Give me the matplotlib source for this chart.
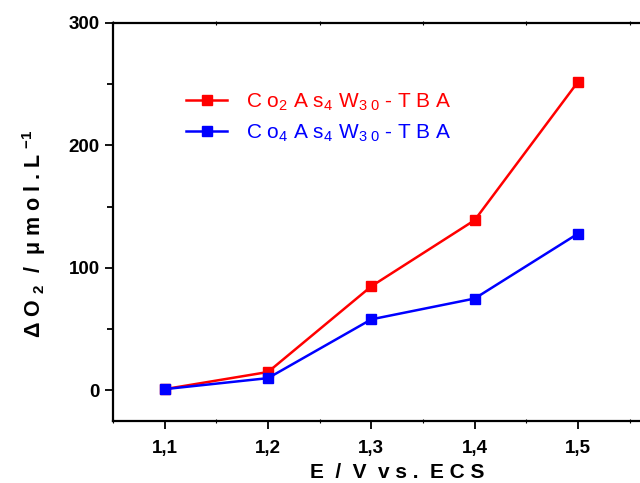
import numpy as np
import matplotlib.pyplot as plt
from matplotlib.ticker import MultipleLocator

plt.rcParams['font.family'] = ['Liberation Sans', 'DejaVu Sans']
plt.rcParams['mathtext.fontset'] = 'custom'
plt.rcParams['mathtext.rm'] = 'Liberation Sans'
plt.rcParams['mathtext.bf'] = 'Liberation Sans:bold'

# potential (V vs ECS)
potential = [1.1, 1.2, 1.3, 1.4, 1.5]
# dissolved O2 produced (umol/L)
co2_tba = [1, 15, 85, 139, 252]
co4_tba = [1, 10, 58, 75, 128]
tick_labels = ['1,1', '1,2', '1,3', '1,4', '1,5']

fig = plt.figure(figsize=(6.4, 4.83), dpi=100)
# axes run off the right edge, as in the original (cropped) figure
ax = fig.add_axes([0.1766, 0.1284, 0.888, 0.8240])

ax.plot(potential, co2_tba, color='#ff0000', lw=1.8, marker='s', ms=7,
        label='C o$_2$ A s$_4$ W$_{3\\;0}$ - T B A')
ax.plot(potential, co4_tba, color='#0000ff', lw=1.8, marker='s', ms=7,
        label='C o$_4$ A s$_4$ W$_{3\\;0}$ - T B A')

ax.set_xlim(1.05, 1.6)
ax.set_ylim(-25, 300)
ax.set_xticks(potential)
ax.set_xticklabels(tick_labels)
ax.xaxis.set_minor_locator(MultipleLocator(0.05))
ax.set_yticks([0, 100, 200, 300])
ax.yaxis.set_minor_locator(MultipleLocator(50))

for lab in ax.get_xticklabels() + ax.get_yticklabels():
    lab.set_fontweight('bold')
    lab.set_fontsize(13.5)

ax.tick_params(which='major', direction='out', length=6, width=1.3)
ax.tick_params(which='minor', direction='out', length=4, width=1.3)
ax.tick_params(axis='x', pad=8)
ax.tick_params(axis='x', which='both', top=True, labeltop=False)
ax.tick_params(axis='x', which='major', top=False)
ax.tick_params(axis='x', which='minor', direction='inout', length=3, width=0.8)
for sp in ax.spines.values():
    sp.set_linewidth(1.6)

ax.set_xlabel('E  /  V  v s .  E C S', fontsize=15, fontweight='bold', labelpad=4)
ax.set_ylabel(r'$\mathbf{\Delta}$ O $_{\mathbf{2}}$  /  μ m o l . L $^{\mathbf{-1}}$',
              fontsize=15.5, fontweight='bold')
ax.yaxis.set_label_coords(-0.115, 0.47)

leg = ax.legend(loc='upper left', bbox_to_anchor=(0.095, 0.875), frameon=False,
                fontsize=15, handlelength=2.0, handletextpad=0.9, labelspacing=0.45)
for txt, c in zip(leg.get_texts(), ['#ff0000', '#0000ff']):
    txt.set_color(c)

fig.savefig('out.png', dpi=100)
